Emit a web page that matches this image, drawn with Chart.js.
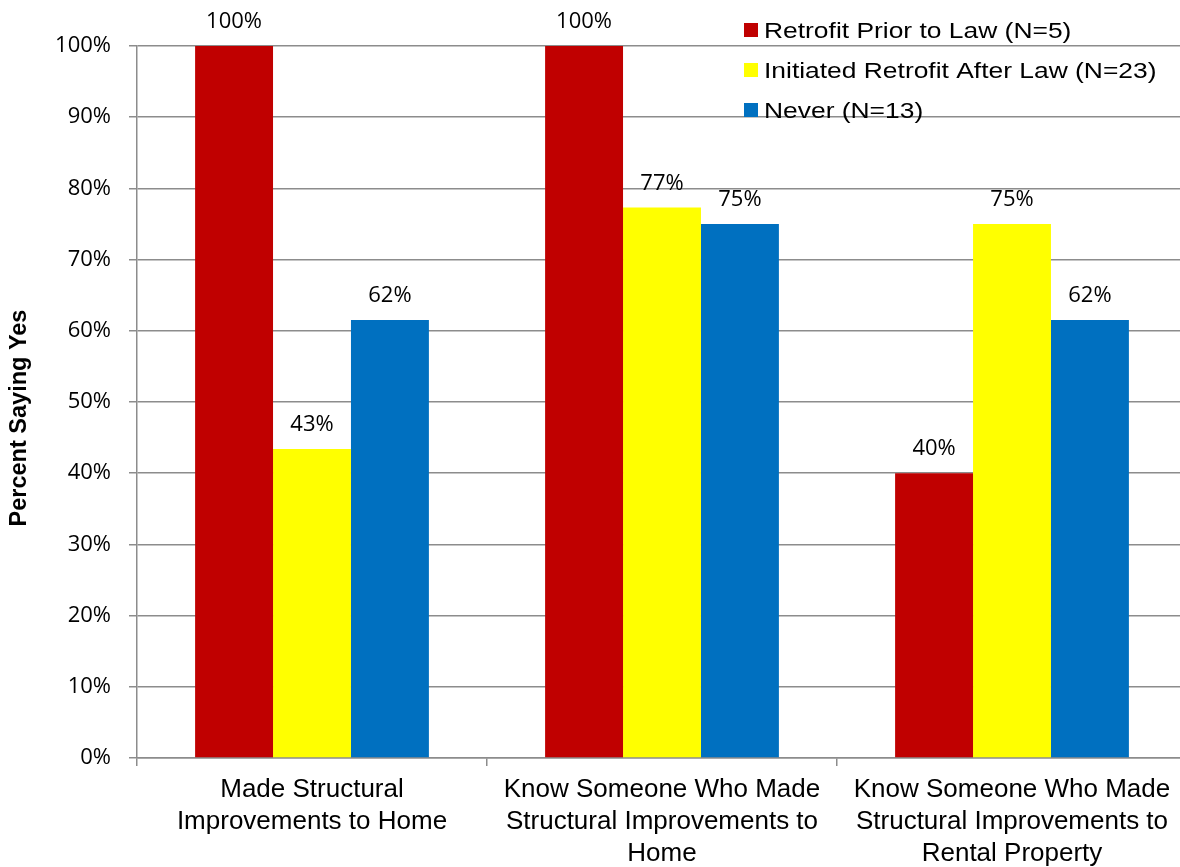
<!DOCTYPE html>
<html>
<head>
<meta charset="utf-8">
<title>Structural Improvements by Retrofit Group</title>
<script src="https://cdn.jsdelivr.net/npm/chart.js@4.4.1/dist/chart.umd.min.js"></script>
<style>
    html, body {
        margin: 0;
        padding: 0;
        overflow: hidden;
        background: #fff;
    }
    #wrap {
        position: relative;
        width: 1190px;
        height: 867px;
    }
</style>
</head>
<body>
<div id="wrap">
    <canvas id="graficoRetrofit"></canvas>
</div>
<script>
// Categorias e séries (percentual que respondeu "sim")
const categorias = [
    ['Made Structural', 'Improvements to Home'],
    ['Know Someone Who Made', 'Structural Improvements to', 'Home'],
    ['Know Someone Who Made', 'Structural Improvements to', 'Rental Property']
];
const seriesNomes = ['Retrofit Prior to Law (N=5)', 'Initiated Retrofit After Law (N=23)', 'Never (N=13)'];
const antesDaLei = [100, 100, 40];
const depoisDaLei = [43.4, 77.3, 75];
const nunca = [61.5, 75, 61.5];
const ticksY = [0, 10, 20, 30, 40, 50, 60, 70, 80, 90, 100];
const tituloY = 'Percent Saying Yes';

const cores = ['#C00000', '#FFFF00', '#0070C0'];
const cinza = '#8c8c8c';

// Rótulos de valor acima de cada barra
const rotulosBarras = {
    id: 'rotulosBarras',
    afterDatasetsDraw(chart) {
        const ctx = chart.ctx;
        ctx.save();
        ctx.font = '22px "Open Sans", sans-serif';
        ctx.fillStyle = '#000';
        ctx.textAlign = 'center';
        ctx.textBaseline = 'alphabetic';
        chart.data.datasets.forEach((ds, i) => {
            chart.getDatasetMeta(i).data.forEach((bar, j) => {
                ctx.fillText(Math.round(ds.data[j]) + '%', bar.x, bar.y - 18);
            });
        });
        ctx.restore();
    }
};

// Título do eixo Y, um pouco abaixo do centro (como no Excel)
const tituloEixoY = {
    id: 'tituloEixoY',
    afterDraw(chart) {
        const ctx = chart.ctx;
        const area = chart.chartArea;
        ctx.save();
        ctx.translate(20, (area.top + area.bottom) / 2 + 16);
        ctx.rotate(-Math.PI / 2);
        ctx.font = 'bold 23.5px "Liberation Sans", Arial, sans-serif';
        ctx.fillStyle = '#000';
        ctx.textAlign = 'center';
        ctx.textBaseline = 'middle';
        ctx.fillText(tituloY, 0, 0);
        ctx.restore();
    }
};

// Legenda dentro da área do gráfico, canto superior direito
const legendaInterna = {
    id: 'legendaInterna',
    afterDraw(chart) {
        const ctx = chart.ctx;
        const x = 744;
        ctx.save();
        ctx.font = '22px "Liberation Sans", Arial, sans-serif';
        ctx.textBaseline = 'alphabetic';
        ctx.textAlign = 'left';
        chart.data.datasets.forEach((ds, i) => {
            const cy = 30 + i * 40;
            ctx.fillStyle = ds.backgroundColor;
            ctx.fillRect(x, cy - 7, 14, 14);
            ctx.fillStyle = '#000';
            ctx.save();
            ctx.translate(x + 20, cy + 8);
            ctx.scale(1.2, 1);
            ctx.fillText(ds.label, 0, 0);
            ctx.restore();
        });
        ctx.restore();
    }
};

const ctxRetrofit = document.getElementById('graficoRetrofit').getContext('2d');
const graficoRetrofit = new Chart(ctxRetrofit, {
    type: 'bar',
    data: {
        labels: categorias,
        datasets: [
            { label: seriesNomes[0], data: antesDaLei, backgroundColor: cores[0] },
            { label: seriesNomes[1], data: depoisDaLei, backgroundColor: cores[1] },
            { label: seriesNomes[2], data: nunca, backgroundColor: cores[2] }
        ]
    },
    options: {
        responsive: true,
        maintainAspectRatio: false,
        animation: false,
        categoryPercentage: 0.668,
        barPercentage: 1,
        layout: {
            padding: { top: 46, right: 3, left: 0, bottom: 0 }
        },
        plugins: {
            legend: { display: false },
            tooltip: { enabled: false }
        },
        scales: {
            x: {
                afterFit: s => { s.height = 109; },
                grid: {
                    offset: true,
                    drawOnChartArea: false,
                    drawTicks: true,
                    tickLength: 8,
                    color: cinza,
                    lineWidth: 1.5
                },
                border: { color: cinza, width: 1.5 },
                ticks: {
                    maxRotation: 0,
                    autoSkip: false,
                    padding: 8,
                    color: '#000',
                    font: { family: '"Liberation Sans", Arial, sans-serif', size: 26, lineHeight: 1.23 }
                }
            },
            y: {
                min: 0,
                max: 100,
                afterFit: s => { s.width = 137; },
                afterBuildTicks: s => { s.ticks = ticksY.map(v => ({ value: v })); },
                grid: {
                    color: cinza,
                    lineWidth: 1.5,
                    tickLength: 8
                },
                border: { color: cinza, width: 1.5 },
                ticks: {
                    padding: 18,
                    color: '#000',
                    font: { family: '"Open Sans", sans-serif', size: 22 },
                    callback: v => v + '%'
                }
            }
        }
    },
    plugins: [rotulosBarras, tituloEixoY, legendaInterna]
});
</script>
</body>
</html>
